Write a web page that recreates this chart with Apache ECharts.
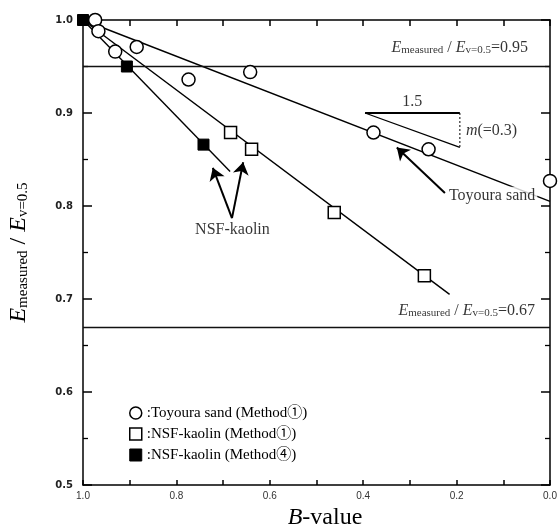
<!DOCTYPE html>
<html>
<head>
<meta charset="utf-8">
<script src="https://cdn.jsdelivr.net/npm/echarts@6/dist/echarts.min.js"></script>
<style>
  html, body { margin: 0; padding: 0; background: #fff; }
  #chart { width: 560px; height: 529px; }
</style>
</head>
<body>
<div id="chart"></div>
<script>
// B-value (x) against normalised stiffness E_measured / E_v=0.5 (y)
const toyouraB = [0.974, 0.967, 0.931, 0.885, 0.774, 0.642, 0.378, 0.260, 0.000];
const toyouraE = [1.000, 0.988, 0.966, 0.971, 0.936, 0.944, 0.879, 0.861, 0.827];
const kaolin1B = [0.684, 0.639, 0.462, 0.269];
const kaolin1E = [0.879, 0.861, 0.793, 0.725];
const kaolin4B = [1.000, 0.906, 0.742];
const kaolin4E = [1.000, 0.950, 0.866];

// trend lines, given by their end points
const toyouraFitB = [1.0, 0.0];
const toyouraFitE = [1.0, 0.805];
const kaolin1FitB = [1.0, 0.215];
const kaolin1FitE = [1.0, 0.705];
const kaolin4FitB = [1.0, 0.685];
const kaolin4FitE = [1.0, 0.837];

// horizontal reference levels
const refLevels = [0.95, 0.67];

// slope triangle (1.5 : m)
const slopeB = [0.396, 0.193];
const slopeE = [0.900, 0.863];

// tick labels
const xTickLabels = ['1.0', '0.8', '0.6', '0.4', '0.2', '0.0'];
const yTickLabels = ['0.5', '0.6', '0.7', '0.8', '0.9', '1.0'];

// legend names
const seriesNames = [
  'Toyoura sand (Method\u2460)',
  'NSF-kaolin (Method\u2460)',
  'NSF-kaolin (Method\u2463)'
];

const zip = (a, b) => a.map((v, i) => [v, b[i]]);
const SERIF = '"Liberation Serif", "Times New Roman", "DejaVu Serif", "Noto Sans CJK JP", serif';
const BLACK = '#000';

const richSmall = {
  i: { fontFamily: SERIF, fontStyle: 'italic', fontSize: 16, color: BLACK },
  n: { fontFamily: SERIF, fontSize: 16, color: BLACK },
  s: { fontFamily: SERIF, fontSize: 11, color: BLACK, verticalAlign: 'bottom', lineHeight: 8 }
};
const ratioText = v => '{i|E}{s|measured}{n| / }{i|E}{s|v=0.5}{n|=' + v + '}';

const axisLineStyle = { color: BLACK, width: 1.5 };

function fitLine(bs, es) {
  return {
    type: 'line', data: zip(bs, es), symbol: 'none', silent: true, z: 2,
    lineStyle: { color: BLACK, width: 1.4 }
  };
}

function textMark(point, text, position, labelExtra) {
  return {
    type: 'scatter', data: [point], symbolSize: 0, silent: true, z: 6,
    label: Object.assign({
      show: true, position: position, distance: 0,
      formatter: text, rich: richSmall,
      fontFamily: SERIF, fontSize: 16, color: BLACK
    }, labelExtra || {})
  };
}

const chart = echarts.init(document.getElementById('chart'), null, { renderer: 'canvas' });

const option = {
  backgroundColor: '#fff',
  animation: false,
  grid: { left: 83, right: 10, top: 20, bottom: 44, outerBoundsMode: 'none', containLabel: false },
  legend: {
    left: 124, top: 400, orient: 'vertical',
    itemWidth: 12, itemHeight: 12, itemGap: 5, selectedMode: false,
    formatter: name => ':' + name,
    textStyle: { fontFamily: SERIF, fontSize: 15, color: BLACK, lineHeight: 16 },
    data: [
      { name: seriesNames[0], icon: 'circle', itemStyle: { color: '#fff', borderColor: BLACK, borderWidth: 1.5 } },
      { name: seriesNames[1], icon: 'rect', itemStyle: { color: '#fff', borderColor: BLACK, borderWidth: 1.5 } },
      { name: seriesNames[2], icon: 'rect', itemStyle: { color: BLACK, borderColor: BLACK, borderWidth: 1 } }
    ]
  },
  xAxis: [
    {
      type: 'value', min: 0, max: 1, interval: 0.1, inverse: true, position: 'bottom',
      axisLine: { show: true, onZero: false, lineStyle: axisLineStyle },
      axisTick: { show: true, inside: true, length: 5, lineStyle: axisLineStyle },
      splitLine: { show: false },
      axisLabel: {
        margin: 6, fontFamily: '"Liberation Sans", sans-serif', fontSize: 10, color: '#333',
        formatter: v => { const t = v.toFixed(1); return xTickLabels.includes(t) && Math.round(v * 10) % 2 === 0 ? t : ''; }
      },
      name: '{i|B}{n|-value}',
      nameLocation: 'middle', nameGap: 18,
      nameTextStyle: {
        padding: [0, 0, 0, 17],
        rich: {
          i: { fontFamily: SERIF, fontStyle: 'italic', fontSize: 24, color: BLACK },
          n: { fontFamily: SERIF, fontSize: 24, color: BLACK }
        }
      }
    },
    {
      type: 'value', min: 0, max: 1, interval: 0.1, inverse: true, position: 'top',
      axisLine: { show: true, onZero: false, lineStyle: axisLineStyle },
      axisTick: { show: true, inside: true, length: 6, lineStyle: axisLineStyle },
      axisLabel: { show: false },
      splitLine: { show: false }
    }
  ],
  yAxis: [
    {
      type: 'value', min: 0.5, max: 1.0, interval: 0.1, position: 'left',
      axisLine: { show: true, onZero: false, lineStyle: axisLineStyle },
      axisTick: { show: true, inside: true, length: 9, lineStyle: axisLineStyle },
      minorTick: { show: true, splitNumber: 2, length: 5, lineStyle: { color: BLACK, width: 1.3 } },
      splitLine: { show: false },
      axisLabel: {
        margin: 10, fontFamily: '"DejaVu Sans", sans-serif', fontWeight: 'bold', fontSize: 10, color: '#222',
        formatter: v => { const t = v.toFixed(1); return yTickLabels.includes(t) ? t : ''; }
      },
      name: '{i|E}{s|measured}{n| / }{i|E}{s|v=0.5}',
      nameLocation: 'middle', nameRotate: 90, nameGap: 52,
      nameTextStyle: {
        rich: {
          i: { fontFamily: SERIF, fontStyle: 'italic', fontSize: 24, color: BLACK },
          n: { fontFamily: SERIF, fontSize: 24, color: BLACK },
          s: { fontFamily: SERIF, fontSize: 15, color: BLACK, verticalAlign: 'bottom', lineHeight: 10 }
        }
      }
    },
    {
      type: 'value', min: 0.5, max: 1.0, interval: 0.1, position: 'right',
      axisLine: { show: true, onZero: false, lineStyle: axisLineStyle },
      axisTick: { show: true, inside: true, length: 9, lineStyle: axisLineStyle },
      minorTick: { show: true, splitNumber: 2, length: 5, lineStyle: { color: BLACK, width: 1.3 } },
      axisLabel: { show: false },
      splitLine: { show: false }
    }
  ],
  series: [
    // reference levels
    {
      type: 'line', data: [], silent: true,
      markLine: {
        silent: true, symbol: 'none', label: { show: false },
        lineStyle: { color: '#111', width: 1.4, type: 'solid' },
        data: refLevels.map(v => ({ yAxis: v }))
      }
    },
    fitLine(toyouraFitB, toyouraFitE),
    fitLine(kaolin1FitB, kaolin1FitE),
    fitLine(kaolin4FitB, kaolin4FitE),
    // slope triangle
    { type: 'line', data: zip(slopeB, [slopeE[0], slopeE[0]]), symbol: 'none', silent: true, lineStyle: { color: BLACK, width: 2.2 } },
    { type: 'line', data: zip([slopeB[1], slopeB[1]], slopeE), symbol: 'none', silent: true, lineStyle: { color: BLACK, width: 1, type: [2, 2] } },
    { type: 'line', data: zip(slopeB, slopeE), symbol: 'none', silent: true, lineStyle: { color: BLACK, width: 1.3 } },
    // pointer arrows
    {
      type: 'line', data: [], silent: true,
      markLine: {
        silent: true, symbol: ['none', 'arrow'], symbolSize: 12,
        label: { show: false },
        lineStyle: { color: BLACK, width: 2, type: 'solid' },
        itemStyle: { color: BLACK },
        data: [
          [{ coord: [0.681, 0.787] }, { coord: [0.722, 0.841] }],
          [{ coord: [0.681, 0.787] }, { coord: [0.657, 0.847] }],
          [{ coord: [0.225, 0.814] }, { coord: [0.328, 0.863] }]
        ]
      }
    },
    // measured points
    {
      name: seriesNames[0], type: 'scatter', data: zip(toyouraB, toyouraE), z: 5,
      symbol: 'circle', symbolSize: 13,
      itemStyle: { color: '#fff', borderColor: BLACK, borderWidth: 1.5, opacity: 1 }
    },
    {
      name: seriesNames[1], type: 'scatter', data: zip(kaolin1B, kaolin1E), z: 5,
      symbol: 'rect', symbolSize: 12,
      itemStyle: { color: '#fff', borderColor: BLACK, borderWidth: 1.5, opacity: 1 }
    },
    {
      name: seriesNames[2], type: 'scatter', data: zip(kaolin4B, kaolin4E), z: 5,
      symbol: 'rect', symbolSize: 11,
      itemStyle: { color: BLACK, borderColor: BLACK, borderWidth: 1, opacity: 1 }
    },
    // annotations
    textMark([0.047, 0.970], ratioText('0.95'), 'left'),
    textMark([0.032, 0.687], ratioText('0.67'), 'left'),
    textMark([0.295, 0.912], '{n|1.5}', 'inside'),
    textMark([0.180, 0.881], '{i|m}{n|(=0.3)}', 'right'),
    textMark([0.680, 0.774], '{n|NSF-kaolin}', 'inside'),
    // white backing so the sand trend line stops at its label
    textMark([0.124, 0.811], '{n|Toyoura sand}', 'inside', { backgroundColor: '#fff', padding: [1, 2] })
  ]
};

chart.setOption(option);
</script>
</body>
</html>
